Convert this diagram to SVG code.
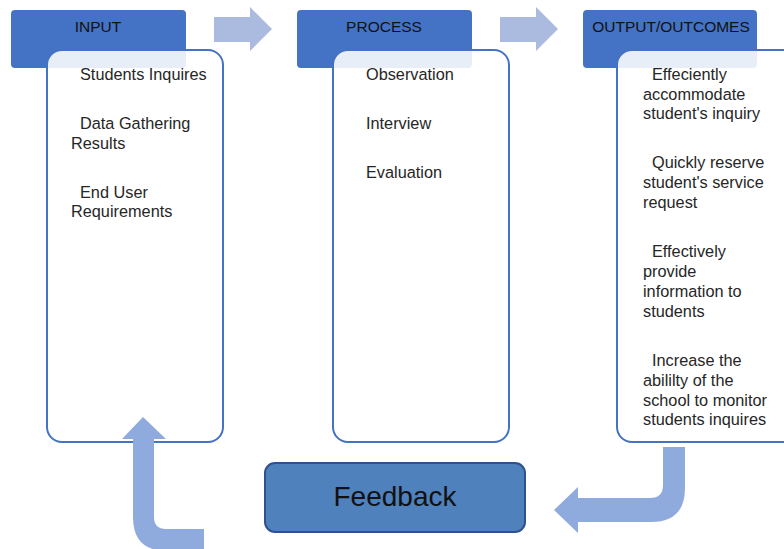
<svg xmlns="http://www.w3.org/2000/svg" width="784" height="549" viewBox="0 0 784 549">
<style>
.hdr{fill:#4472C4;}
.box{fill:#ffffff;fill-opacity:0.88;stroke:#4472C4;stroke-width:2;}
.t{font-family:"Liberation Sans","Open Sans",sans-serif;font-size:16.3px;fill:#262626;}
.h{font-family:"Liberation Sans","Open Sans",sans-serif;font-size:15.5px;fill:#111111;text-anchor:middle;}
.ar{fill:#ABBADF;}
.bent{fill:#8FAADC;}
</style>
<defs>
<clipPath id="clipOut"><rect x="618" y="51" width="200" height="389" rx="14"/></clipPath>
</defs>
<g id="input">
<rect class="hdr" x="11" y="10" width="175" height="58" rx="4"/>
<rect class="box" x="47" y="50" width="176" height="392" rx="15"/>
<text class="h" x="98" y="32">INPUT</text>
<text class="t" x="80" y="80">Students Inquires</text>
<text class="t" x="80" y="129">Data Gathering</text>
<text class="t" x="71" y="149">Results</text>
<text class="t" x="80" y="198">End User</text>
<text class="t" x="71" y="217">Requirements</text>
</g>
<g id="process">
<rect class="hdr" x="297" y="10" width="175" height="58" rx="4"/>
<rect class="box" x="333" y="50" width="176" height="392" rx="15"/>
<text class="h" x="384" y="32">PROCESS</text>
<text class="t" x="366" y="80">Observation</text>
<text class="t" x="366" y="129">Interview</text>
<text class="t" x="366" y="178">Evaluation</text>
</g>
<g id="output">
<rect class="hdr" x="583" y="10" width="174" height="58" rx="4"/>
<rect class="box" x="617" y="50" width="200" height="392" rx="15"/>
<text class="h" x="671" y="32">OUTPUT/OUTCOMES</text>
<g clip-path="url(#clipOut)">
<text class="t" x="652" y="80">Effeciently</text>
<text class="t" x="643" y="100">accommodate</text>
<text class="t" x="643" y="119">student's inquiry</text>
<text class="t" x="652" y="168">Quickly reserve</text>
<text class="t" x="643" y="188">student's service</text>
<text class="t" x="643" y="208">request</text>
<text class="t" x="652" y="257">Effectively</text>
<text class="t" x="643" y="277">provide</text>
<text class="t" x="643" y="297">information to</text>
<text class="t" x="643" y="317">students</text>
<text class="t" x="652" y="366">Increase the</text>
<text class="t" x="643" y="386">abililty of the</text>
<text class="t" x="643" y="406">school to monitor</text>
<text class="t" x="643" y="425">students inquires</text>
</g>
</g>
<g id="feedback">
<rect x="265" y="463" width="260" height="69" rx="10" fill="#4F81BD" stroke="#2F528F" stroke-width="2"/>
<text x="395" y="506" font-family="Liberation Sans, Open Sans, sans-serif" font-size="28" fill="#111111" text-anchor="middle">Feedback</text>
</g>
<g id="connectors">
<polygon class="ar" points="214,17 250,17 250,7 272,29 250,51 250,42 214,42"/>
<polygon class="ar" points="500,17 536,17 536,7 558,29 536,51 536,42 500,42"/>
<path class="bent" d="M663,447 L685,447 L685,488 Q685,522 651,522 L578,522 L578,533 L554,510 L578,487 L578,498 L650,498 Q663,498 663,485 Z"/>
<path class="bent" d="M204,529 L204,551 L167,551 Q133,551 133,517 L133,439 L122,439 L143,417 L166,439 L154,439 L154,517 Q154,529 166,529 Z"/>
</g>
</svg>
